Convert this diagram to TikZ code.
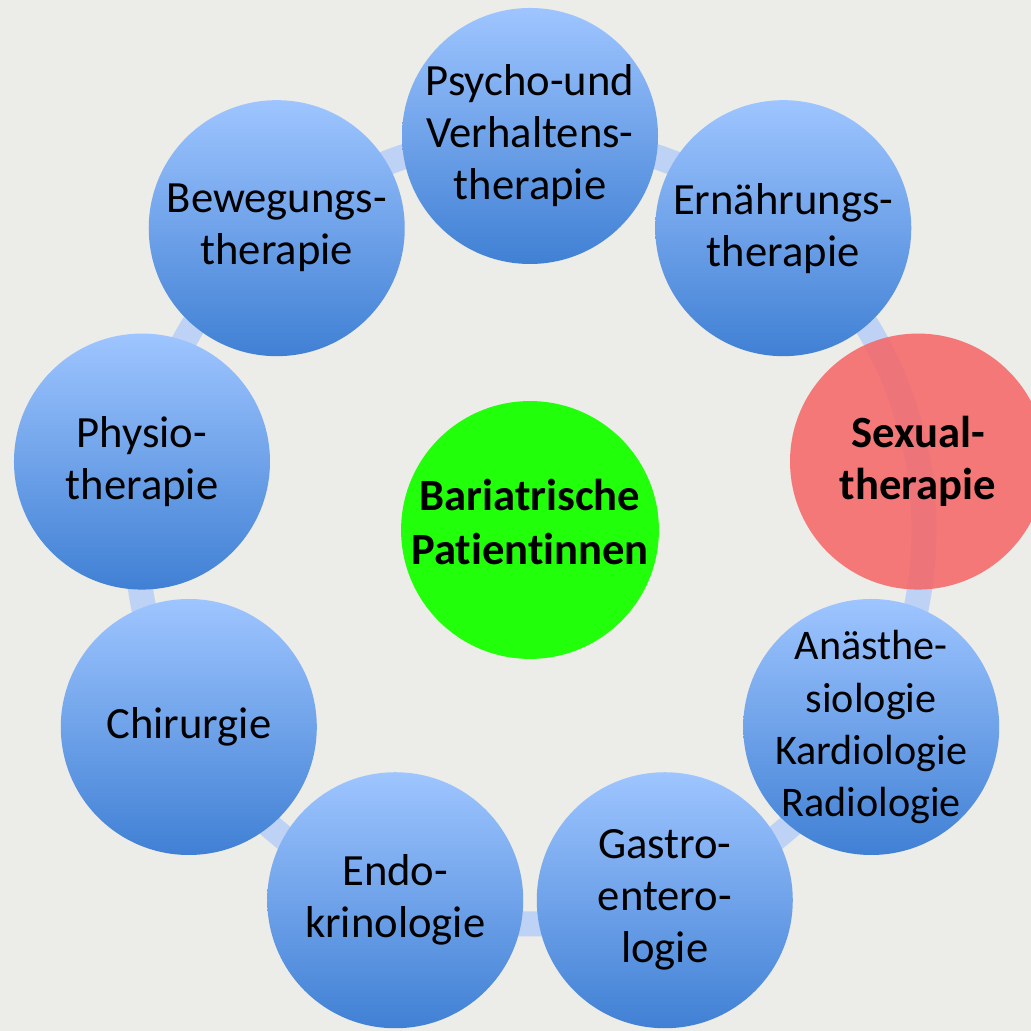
\documentclass[tikz,border=0pt]{standalone}
\usepackage{fontspec}
\setmainfont[Ligatures=NoCommon]{Carlito}
\usetikzlibrary{calc}
\definecolor{paper}{RGB}{236,236,232}
\definecolor{ringblue}{RGB}{190,210,245}
\definecolor{disctop}{RGB}{158,197,255}
\definecolor{discbot}{RGB}{64,128,212}
\definecolor{hotred}{RGB}{246,100,100}
\definecolor{coregreen}{RGB}{34,255,10}
\begin{document}
\begin{tikzpicture}
\tikzstyle{disc}=[circle,minimum size=2.56cm,inner sep=-0.4cm,align=center,
  top color=disctop,bottom color=discbot,font=\fontsize{12.7}{14.8}\selectfont];
\tikzstyle{hot}=[circle,minimum size=2.56cm,inner sep=0pt,align=center,
  fill=hotred,fill opacity=0.85,text opacity=1,font=\bfseries\fontsize{12.7}{14.8}\selectfont];
\tikzstyle{core}=[circle,minimum size=2.54cm,inner sep=0pt,align=center,text depth=0.16cm,
  fill=coregreen,font=\bfseries\fontsize{12.7}{15.5}\selectfont];
\tikzstyle{ring}=[ringblue,line width=0.25cm];
\fill [paper] (0,0) rectangle (10.31,10.31);
\useasboundingbox (0,0) rectangle (10.31,10.31);
\coordinate (hub) at (5.30,5.01);

% ring positions
\foreach \i in {0,...,8}
  \coordinate (p\i) at ($(hub)+({90-40*\i}:3.94)$);

% ring between the discs
\foreach \i in {0,...,8}
  \draw [ring] (p\i) arc [start angle={90-40*\i},end angle={50-40*\i},radius=3.94];

\node [disc] (psy) at (p0) {Psycho-und\\Verhaltens-\\therapie};
\node [disc] (ern) at (p1) {Ernährungs-\\therapie};
\node [hot] (sex) at (p2) {Sexual-\\therapie};
\node [disc,font=\fontsize{12}{14.8}\selectfont] (ana) at (p3) {Anästhe-\\siologie\\Kardiologie\\Radiologie};
\node [disc] (gas) at (p4) {Gastro-\\entero-\\logie};
\node [disc] (end) at (p5) {Endo-\\krinologie};
\node [disc] (chi) at (p6) {Chirurgie};
\node [disc] (phy) at (p7) {Physio-\\therapie};
\node [disc] (bew) at (p8) {Bewegungs-\\therapie};

\node [core] (pat) at (hub) {Bariatrische\\Patientinnen};
\end{tikzpicture}
\end{document}
